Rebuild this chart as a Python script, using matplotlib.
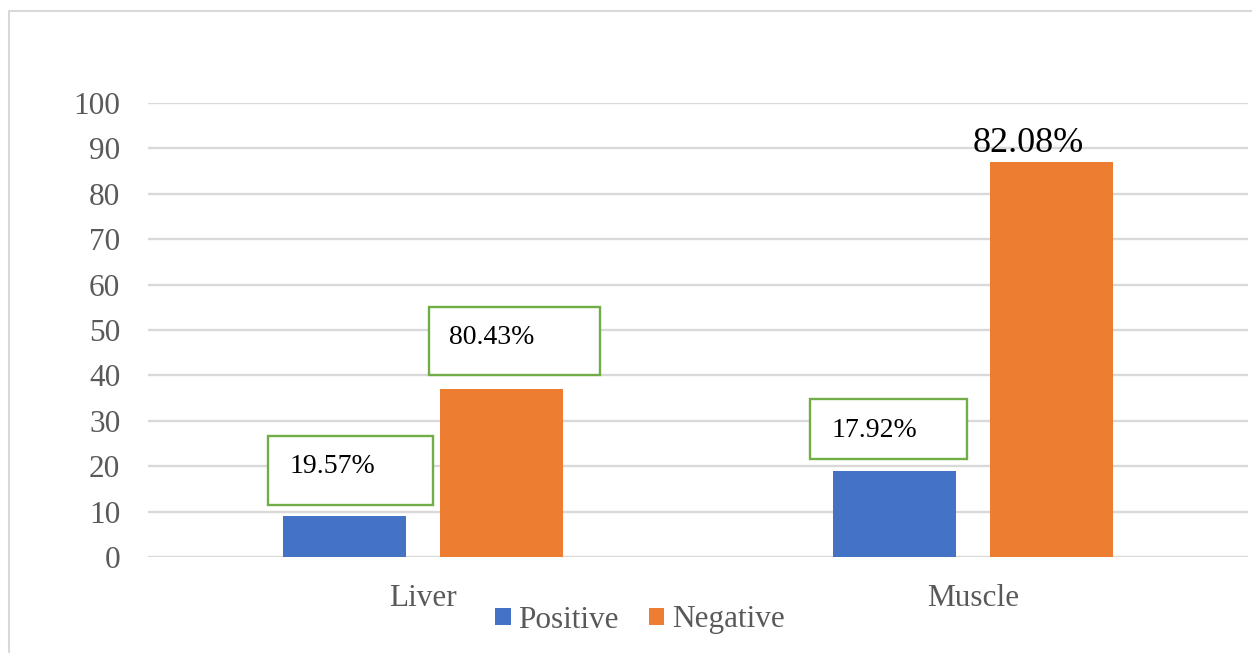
import numpy as np
import matplotlib.pyplot as plt
from matplotlib.patches import Rectangle, Patch
from matplotlib.lines import Line2D

plt.rcParams['font.family'] = ['Liberation Serif', 'DejaVu Serif']

categories = ['Liver', 'Muscle']
positive = [9, 19]
negative = [37, 87]
positive_labels = ['19.57%', '17.92%']
negative_labels = ['80.43%', '82.08%']

blue = '#4472C4'
orange = '#ED7D31'
green = '#70AD47'
grid = '#D9D9D9'
gray = '#595959'

W, H = 1252, 653
fig = plt.figure(figsize=(W / 100, H / 100), dpi=100)
ax = fig.add_axes([148 / W, 1 - 557 / H, 1100 / W, 454 / H])

x = np.arange(len(categories))
width = 0.2236
off = 0.1427
ax.bar(x - off, positive, width, color=blue, label='Positive', zorder=3)
ax.bar(x + off, negative, width, color=orange, label='Negative', zorder=3)

ax.set_xlim(-0.5, 1.5)
ax.set_ylim(0, 100)
ax.set_yticks(np.arange(0, 101, 10))
ax.set_xticks(x)
ax.set_xticklabels(categories)
ax.yaxis.grid(True, color=grid, linewidth=1.7, zorder=0)
ax.tick_params(axis='both', length=0, labelsize=22.5, labelcolor=gray)
ax.tick_params(axis='y', pad=20)
ax.tick_params(axis='x', pad=19.5)
for s in ax.spines.values():
    s.set_visible(False)

# boxed labels: (bar x, box dx, box width, box bottom, box height, text dx, text baseline)
boxes = [
    (x[0] - off, -0.139, 0.300, 11.45, 15.2, -0.099, 18.5, positive_labels[0]),
    (x[0] + off, -0.132, 0.311, 40.1, 15.0, -0.0955, 46.9, negative_labels[0]),
    (x[1] - off, -0.1545, 0.2855, 21.6, 13.2, -0.1145, 26.4, positive_labels[1]),
]
for bx, dx, bw, by, bh, tx, ty, lab in boxes:
    ax.add_patch(Rectangle((bx + dx, by), bw, bh, facecolor='white',
                           edgecolor=green, linewidth=1.7, zorder=4))
    ax.text(bx + tx, ty, lab, fontsize=20, color='black', ha='left',
            va='baseline', zorder=5)

ax.text(x[1] + off - 0.043, negative[1] + 2.2, negative_labels[1], fontsize=26,
        color='black', ha='center', va='baseline', zorder=5)

handles = [Patch(facecolor=blue, label='Positive'),
           Patch(facecolor=orange, label='Negative')]
fig.legend(handles=handles, loc='center', bbox_to_anchor=(640 / W, 1 - 620 / H),
           ncol=2, frameon=False, fontsize=22.5, handlelength=0.5,
           handleheight=0.5, handletextpad=0.25, columnspacing=0.95,
           labelcolor=gray)

# chart frame
fig.add_artist(Line2D([9 / W, 9 / W, 1.0], [0, 1 - 11 / H, 1 - 11 / H],
                      transform=fig.transFigure, color=grid, linewidth=1.5))

fig.savefig('out.png', dpi=100)
